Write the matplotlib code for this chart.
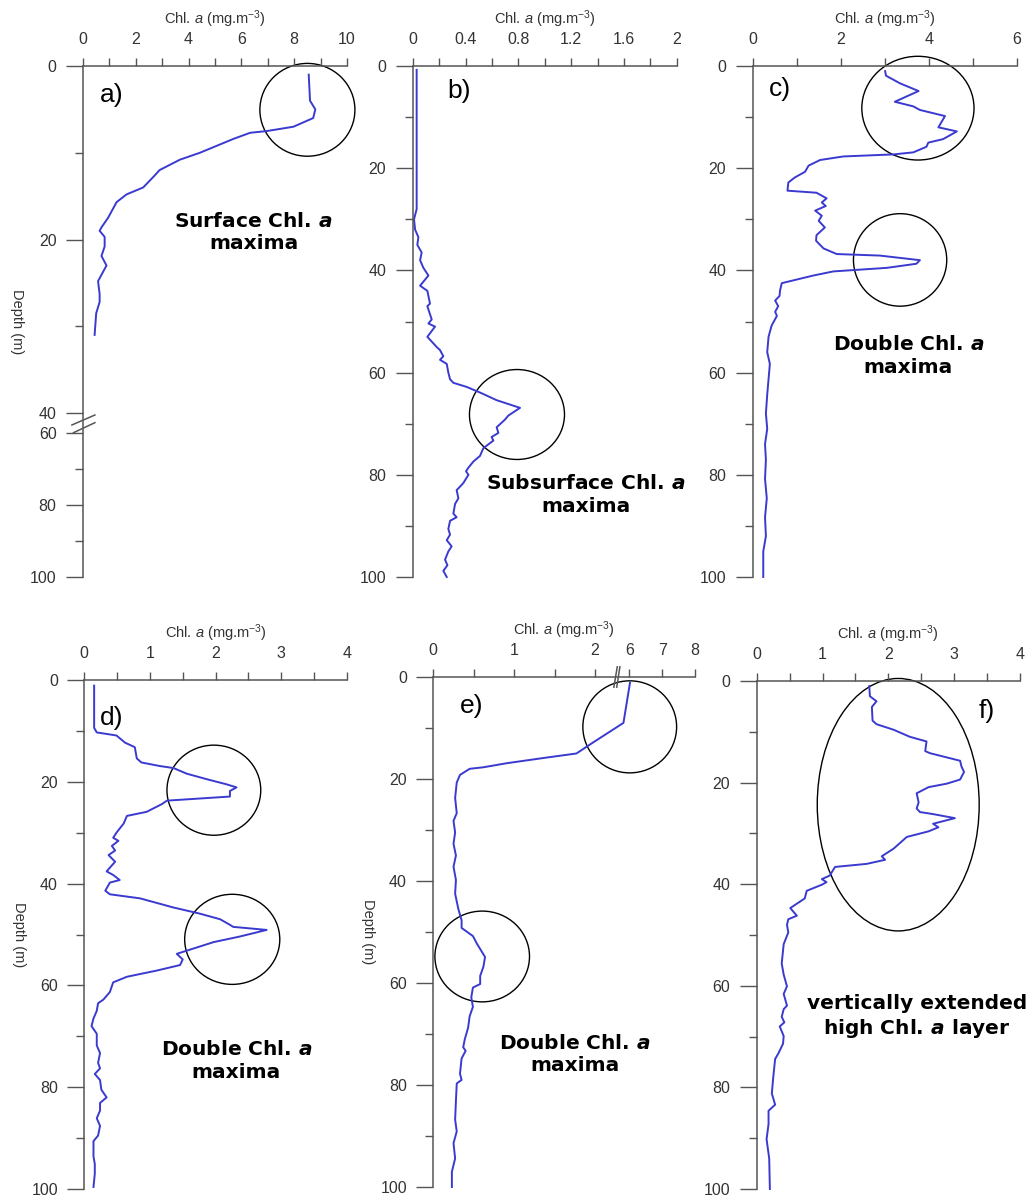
import matplotlib
matplotlib.use('Agg')
import matplotlib.pyplot as plt
import numpy as np
from matplotlib.patches import Ellipse
from matplotlib.lines import Line2D

plt.rcParams['font.family'] = ['Liberation Sans', 'DejaVu Sans']
plt.rcParams['mathtext.fontset'] = 'custom'
plt.rcParams['mathtext.rm'] = 'Liberation Sans'
plt.rcParams['mathtext.it'] = 'Liberation Sans:italic'
plt.rcParams['mathtext.bf'] = 'DejaVu Sans:bold'
plt.rcParams['mathtext.bfit'] = 'DejaVu Sans:italic:bold'

# ---- data ----
a_chl = [8.55, 8.6, 8.8, 8.72, 7.97, 6.96, 6.33, 5.7, 4.43, 3.67, 2.9, 2.66, 2.28, 1.65,
         1.27, 0.95, 0.7, 0.63, 0.82, 0.82, 0.7, 0.89, 0.57, 0.63, 0.63, 0.5, 0.44]
a_depth = [1, 4, 5, 6, 7, 7.5, 7.7, 8.4, 10, 10.8, 12, 12.8, 14, 14.8,
           15.7, 17.5, 18.6, 19, 19.7, 20.8, 21.9, 23, 24.8, 26.3, 27.2, 28.5, 31]

b_chl = [0.030, 0.030, 0.010, 0.018, 0.043, 0.035, 0.068, 0.056, 0.081, 0.119,
         0.056, 0.111, 0.131, 0.111, 0.144, 0.119, 0.169, 0.111, 0.182, 0.207,
         0.232, 0.207, 0.258, 0.270, 0.283, 0.308, 0.409, 0.510, 0.636, 0.813,
         0.725, 0.699, 0.636, 0.649, 0.598, 0.611, 0.535, 0.510, 0.460, 0.422,
         0.404, 0.422, 0.384, 0.359, 0.333, 0.346, 0.321, 0.308, 0.333, 0.283,
         0.270, 0.283, 0.258, 0.295, 0.270, 0.245, 0.263, 0.232, 0.258]
b_depth = [0.75, 28, 30, 32, 33.5, 35, 36.5, 38, 39.5, 41,
           43, 44, 46.5, 47, 49.6, 50.4, 51, 53, 55, 55.6,
           56.8, 57.5, 58.3, 60, 61.3, 62, 62.8, 63.9, 65.4, 66.9,
           68.4, 69.2, 70.7, 71.8, 72.6, 73.3, 74.8, 76.3, 77.4, 78.6,
           79.3, 80, 81.6, 82.3, 83, 84.6, 85.7, 87.6, 88.3, 89,
           90.6, 91.7, 92.8, 94, 95, 96.6, 97.7, 98.8, 100]

c_chl = [3.01, 3.03, 3.35, 3.77, 3.23, 3.65, 3.8, 4.37, 4.22, 4.64,
         4.33, 3.99, 3.95, 3.65, 3.2, 2.06, 1.53, 1.27, 1.19, 0.96,
         0.81, 0.79, 1.45, 1.68, 1.57, 1.66, 1.42, 1.57, 1.5, 1.64,
         1.45, 1.44, 1.61, 1.91, 2.89, 3.8, 3.72, 3.05, 1.83, 1.38,
         0.66, 0.62, 0.61, 0.51, 0.58, 0.51, 0.55, 0.43, 0.36, 0.33,
         0.39, 0.36, 0.33, 0.3, 0.33, 0.28, 0.3, 0.28, 0.32, 0.28,
         0.3, 0.24, 0.24]
c_depth = [1, 1.9, 3.4, 4.9, 7, 7.9, 8.6, 9.8, 12, 12.8,
           14.3, 15, 15.8, 16.9, 17.3, 17.7, 18.4, 19.5, 20.7, 21.8,
           22.8, 24.4, 24.8, 25.9, 26.7, 27.4, 28.3, 29.3, 30.3, 31.6,
           33.1, 34.2, 35.7, 36.8, 37.1, 38, 38.7, 39.5, 40.2, 41,
           42.5, 44, 45, 45.9, 47, 48.1, 48.9, 50.8, 53, 56,
           58.3, 61.3, 64.3, 68, 71, 74, 77, 80.8, 84.6, 88.3,
           92, 95, 100]

d_chl = [0.15, 0.15, 0.19, 0.49, 0.62, 0.77, 0.8, 0.87, 1.15, 1.36,
         1.56, 1.87, 2.17, 2.32, 2.22, 2.22, 1.26, 1.18, 0.95, 0.65,
         0.6, 0.49, 0.44, 0.52, 0.42, 0.47, 0.37, 0.47, 0.34, 0.44,
         0.54, 0.39, 0.32, 0.39, 0.85, 1.36, 1.76, 2.07, 2.22, 2.27,
         2.78, 2.37, 1.97, 1.41, 1.5, 1.46, 1.1, 0.65, 0.44, 0.39,
         0.29, 0.21, 0.19, 0.14, 0.11, 0.19, 0.19, 0.24, 0.21, 0.24,
         0.16, 0.24, 0.26, 0.34, 0.24, 0.24, 0.19, 0.24, 0.21, 0.14,
         0.14, 0.16, 0.16, 0.14]
d_depth = [1.1, 9.4, 10.3, 10.9, 12.3, 13.2, 15.4, 16.2, 16.9, 17.3,
           18.4, 19.5, 20.5, 21.1, 21.8, 22.9, 23.7, 24.4, 25.9, 26.7,
           28.2, 30, 31, 31.6, 32.6, 33.5, 34.4, 35.7, 37.6, 38.3,
           39.3, 39.8, 41.4, 42.1, 42.9, 44.7, 45.9, 47, 48.1, 48.5,
           49.1, 50.4, 51.5, 53.8, 54.9, 56, 57.1, 58.3, 59.4, 61.3,
           62.8, 63.5, 65, 66.5, 68, 69.5, 71.8, 73.3, 75.2, 76.3,
           77.4, 78.6, 80.5, 82, 83.1, 84.6, 86.1, 87.6, 89.5, 90.6,
           93.6, 95.1, 97, 99.6]

e_chl = [6.02, 5.82, 1.98, 1.77, 1.4, 0.91, 0.62, 0.45, 0.33, 0.29,
         0.27, 0.29, 0.25, 0.27, 0.25, 0.28, 0.25, 0.28, 0.27, 0.31,
         0.35, 0.35, 0.49, 0.54, 0.64, 0.62, 0.58, 0.58, 0.49, 0.47,
         0.49, 0.45, 0.43, 0.39, 0.37, 0.4, 0.35, 0.33, 0.35, 0.29,
         0.28, 0.27, 0.29, 0.25, 0.27, 0.23, 0.23]
e_depth = [1.1, 9, 12.8, 15, 15.8, 16.9, 17.7, 18, 19.2, 20.7,
           23.7, 26.7, 28.2, 30.5, 32.7, 35, 37.2, 39.8, 42.5, 45.5,
           47.7, 49.2, 50.8, 52.3, 54.9, 56.8, 58.6, 60.2, 60.9, 62.8,
           64.7, 66.5, 68.8, 71, 72.6, 73.3, 74.8, 77.8, 79, 79.7,
           83.1, 86.8, 89.1, 91.4, 94.4, 97, 100]

f_chl = [1.71, 1.72, 1.82, 1.75, 1.76, 1.82, 2.08, 2.33, 2.58, 2.56,
         2.63, 3.09, 3.11, 3.15, 3.09, 2.89, 2.61, 2.43, 2.46, 2.43,
         2.48, 2.68, 3.01, 2.68, 2.76, 2.61, 2.28, 2.08, 1.9, 1.95,
         1.67, 1.19, 1.11, 0.99, 1.06, 0.99, 0.76, 0.73, 0.51, 0.61,
         0.48, 0.46, 0.48, 0.41, 0.38, 0.41, 0.46, 0.41, 0.46, 0.41,
         0.38, 0.42, 0.35, 0.41, 0.4, 0.33, 0.28, 0.25, 0.23, 0.28,
         0.18, 0.18, 0.15, 0.19, 0.2]
f_depth = [1, 3, 4, 5.1, 7.8, 8.5, 9.6, 11, 11.9, 13.8,
           14.2, 15.7, 16.8, 17.9, 19.4, 20.2, 20.9, 22.1, 23.9, 25.1,
           25.8, 26.2, 27, 28.1, 28.8, 29.6, 30.7, 33, 34.5, 35.2,
           36, 36.6, 38.3, 39, 39.6, 40.1, 41.3, 42.8, 44.7, 46.2,
           46.9, 48, 49.5, 51.8, 55.6, 57.8, 60.1, 61.6, 63.9, 64.6,
           66.1, 67.2, 68, 69.9, 71.4, 73.3, 74.4, 78.2, 81.2, 83.4,
           84.6, 87.2, 90.2, 94, 100]

# x tick values / labels per panel
a_xticks = [0, 2, 4, 6, 8, 10]
b_xticks = [0, 0.4, 0.8, 1.2, 1.6, 2]
b_xlabels = ['0', '0.4', '0.8', '1.2', '1.6', '2']
c_xticks = [0, 2, 4, 6]
d_xticks = [0, 1, 2, 3, 4]
e_xticks = [0, 1, 2, 6, 7, 8]
f_xticks = [0, 1, 2, 3, 4]

# circled regions: (xmin, xmax, depth_top, depth_bottom)
a_circles = [(6.7, 10.3, -0.3, 10.4)]
b_circles = [(0.43, 1.15, 59.4, 77)]
c_circles = [(2.48, 5.03, -1.9, 18.4), (2.29, 4.41, 28.9, 47)]
d_circles = [(1.26, 2.69, 12.8, 30.5), (1.53, 2.98, 42.1, 59.8)]
e_circles = [(1.85, 7.44, 0.75, 18.8), (0.02, 1.19, 45.9, 63.7)]
f_circles = [(0.92, 3.38, -0.5, 49.2)]

notes = {
    'a': ('Surface Chl. $\\mathbfit{a}$\nmaxima', 6.46, 19.2),
    'b': ('Subsurface Chl. $\\mathbfit{a}$\nmaxima', 1.31, 84),
    'c': ('Double Chl. $\\mathbfit{a}$\nmaxima', 3.54, 56.7),
    'd': ('Double Chl. $\\mathbfit{a}$\nmaxima', 2.32, 74.8),
    'e': ('Double Chl. $\\mathbfit{a}$\nmaxima', 1.75, 74),
    'f': ('vertically extended\nhigh Chl. $\\mathbfit{a}$ layer', 2.43, 66.1),
}
tags = {'a': (1.08, 3.3), 'b': (0.35, 4.9), 'c': (0.62, 4.5),
        'd': (0.42, 7.5), 'e': (0.47, 5.6), 'f': (3.49, 5.9)}

AXC = '#555555'
TXT = '#333333'
LINEC = '#3a3ad0'


# broken depth axis of panel a (0-40 stretched, 60-100 compressed)
def a_fwd(d):
    d = np.asarray(d, float)
    return np.where(d <= 40, d * 8.675,
                    np.where(d >= 60, 367 + (d - 60) * 3.6, 347 + (d - 40)))


def a_inv(p):
    p = np.asarray(p, float)
    return np.where(p <= 347, p / 8.675,
                    np.where(p >= 367, 60 + (p - 367) / 3.6, 40 + (p - 347)))


# broken chl axis of panel e (0-2.3, then 5.7-8)
def e_fwd(x):
    x = np.asarray(x, float)
    return np.where(x <= 2.3, x,
                    np.where(x >= 5.7, 2.3034 + (x - 5.7) * 0.406, 2.3 + (x - 2.3) * 0.001))


def e_inv(s):
    s = np.asarray(s, float)
    return np.where(s <= 2.3, s,
                    np.where(s >= 2.3034, 5.7 + (s - 2.3034) / 0.406, 2.3 + (s - 2.3) / 0.001))


def setup(ax, xmax, xmajor, xminor, xlabels=None, ymajor=None, yminor=None,
          depth_label=False):
    for s in ['right', 'bottom']:
        ax.spines[s].set_visible(False)
    for s in ['left', 'top']:
        ax.spines[s].set_color(AXC)
        ax.spines[s].set_linewidth(1.1)
    ax.xaxis.tick_top()
    ax.xaxis.set_label_position('top')
    ax.set_xlim(0, xmax)
    ax.set_ylim(100, 0)
    ax.set_xticks(xmajor)
    ax.set_xticklabels(xlabels if xlabels else ['%g' % v for v in xmajor])
    ax.set_xticks(xminor, minor=True)
    yt = ymajor if ymajor else [0, 20, 40, 60, 80, 100]
    ax.set_yticks(yt)
    ax.set_yticklabels(['%g' % v for v in yt])
    ax.set_yticks(yminor if yminor else [10, 30, 50, 70, 90], minor=True)
    ax.tick_params(axis='x', which='both', direction='out', length=6, width=1,
                   color=AXC, labelsize=11.5, labelcolor=TXT, pad=8)
    ax.tick_params(axis='y', which='major', direction='out', length=12, width=1,
                   color=AXC, labelsize=11.5, labelcolor=TXT, pad=7)
    ax.tick_params(axis='y', which='minor', direction='out', length=6, width=1, color=AXC)
    ax.set_xlabel('Chl. $a$ (mg.m$^{-3}$)', fontsize=10.5, color=TXT, va='center')
    ax.xaxis.set_label_coords(0.5, 1.092)
    if depth_label:
        ax.set_ylabel('Depth (m)', fontsize=10.5, color=TXT, rotation=270, va='center')
        ax.yaxis.set_label_coords(-0.25, 0.5)


def draw_circles(ax, boxes):
    for x0, x1, y0, y1 in boxes:
        p = ax.transScale.transform([[x0, y0], [x1, y1]])
        c = p.mean(axis=0)
        w = abs(p[1, 0] - p[0, 0])
        h = abs(p[1, 1] - p[0, 1])
        ax.add_patch(Ellipse(c, w, h, transform=ax.transLimits + ax.transAxes,
                             fill=False, ec='black', lw=1.0, clip_on=False))


def finish(ax, key, chl, depth, circles):
    ax.plot(chl, depth, color=LINEC, lw=1.4, clip_on=False)
    draw_circles(ax, circles)
    txt, tx, ty = notes[key]
    ax.text(tx, ty, txt, fontsize=14.5, fontweight='bold', family='DejaVu Sans',
            ha='center', va='center', linespacing=1.25, color='black')
    gx, gy = tags[key]
    ax.text(gx, gy, key + ')', fontsize=19, ha='center', va='center', color='black')


W, H = 1033, 1202
fig = plt.figure(figsize=(W / 100, H / 100), dpi=100)


def add_axes(x0, x1, y0, y1):
    return fig.add_axes([x0 / W, 1 - y1 / H, (x1 - x0) / W, (y1 - y0) / H])


ax_a = add_axes(83, 347, 66, 577)
ax_b = add_axes(412.7, 676.7, 66, 577)
ax_c = add_axes(752.7, 1016.7, 66, 577)
ax_d = add_axes(84.3, 346.7, 680, 1189)
ax_e = add_axes(433.3, 695, 677, 1187)
ax_f = add_axes(756.7, 1020, 681, 1189)

# a
ax_a.set_yscale('function', functions=(a_fwd, a_inv))
setup(ax_a, 10, a_xticks, [1, 3, 5, 7, 9], ymajor=[0, 20, 40, 60, 80, 100],
      yminor=[10, 30, 70, 90], depth_label=True)
finish(ax_a, 'a', a_chl, a_depth, a_circles)
for (x0, y0), (x1, y1) in [((-0.042, 0.2975), (0.045, 0.317)),
                           ((-0.036, 0.2824), (0.045, 0.302))]:
    ax_a.add_line(Line2D([x0, x1], [y0, y1], transform=ax_a.transAxes,
                         color=AXC, lw=1.1, clip_on=False))

# b
setup(ax_b, 2, b_xticks, [0.2, 0.6, 1.0, 1.4, 1.8], xlabels=b_xlabels)
finish(ax_b, 'b', b_chl, b_depth, b_circles)

# c
setup(ax_c, 6, c_xticks, [1, 3, 5])
finish(ax_c, 'c', c_chl, c_depth, c_circles)

# d
setup(ax_d, 4, d_xticks, [0.5, 1.5, 2.5, 3.5], depth_label=True)
finish(ax_d, 'd', d_chl, d_depth, d_circles)

# e
ax_e.set_xscale('function', functions=(e_fwd, e_inv))
setup(ax_e, 8, e_xticks, [0.5, 1.5], depth_label=True)
finish(ax_e, 'e', e_chl, e_depth, e_circles)
for (x0, y0), (x1, y1) in [((0.690, 0.98), (0.703, 1.02)),
                           ((0.701, 0.98), (0.713, 1.02))]:
    ax_e.add_line(Line2D([x0, x1], [y0, y1], transform=ax_e.transAxes,
                         color=AXC, lw=1.1, clip_on=False))

# f
setup(ax_f, 4, f_xticks, [0.5, 1.5, 2.5, 3.5])
finish(ax_f, 'f', f_chl, f_depth, f_circles)

fig.savefig('out.png', dpi=100, facecolor='white')
